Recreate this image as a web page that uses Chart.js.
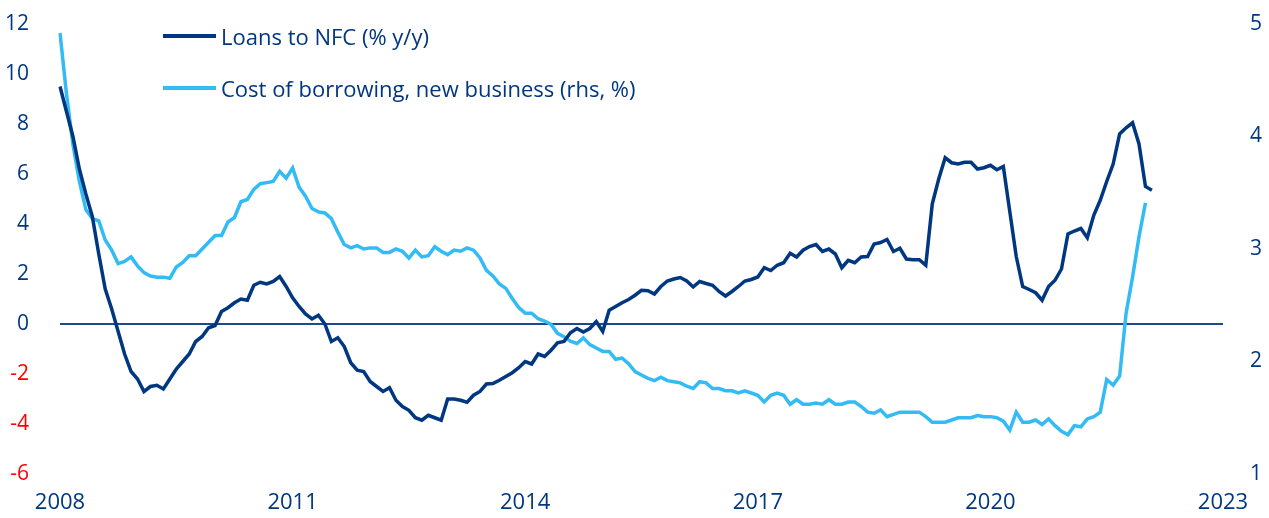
<!DOCTYPE html>
<html>
<head>
<meta charset="utf-8">
<script src="https://cdn.jsdelivr.net/npm/chart.js@4/dist/chart.umd.min.js"></script>
<style>
  body { margin: 0; background: #fff; }
  #wrap { position: relative; width: 1269px; height: 518px; }
  .legend { position: absolute; left: 163px; font-family: "Open Sans", sans-serif; font-size: 22px; color: #003781; display: flex; align-items: center; white-space: nowrap; }
  .legend span.sw { display: inline-block; width: 53px; height: 4px; margin-right: 5px; }
</style>
</head>
<body>
<div id="wrap">
  <canvas id="chart"></canvas>
  <div class="legend" style="top: 21px;"><span class="sw" style="background:#003781"></span>Loans to NFC (% y/y)</div>
  <div class="legend" style="top: 73px;"><span class="sw" style="background:#33bbf5"></span>Cost of borrowing, new business (rhs, %)</div>
</div>
<script>
// Mois de janv. 2008 à janv. 2023 (axe des abscisses)
const months = [];
for (let y = 2008; y <= 2023; y++) {
    for (let m = 1; m <= 12; m++) {
        if (y === 2023 && m > 1) break;
        months.push(y + '-' + String(m).padStart(2, '0'));
    }
}
const tickYears = ['2008', '2011', '2014', '2017', '2020', '2023'];

// Crédits aux SNF (% a/a), axe de gauche
const loansNFC = [
    9.5, 8.5, 7.5, 6.2, 5.2, 4.3, 2.8, 1.4, 0.6, -0.3, -1.2, -1.9,
    -2.2, -2.7, -2.5, -2.45, -2.6, -2.2, -1.8, -1.5, -1.2, -0.7, -0.5, -0.15,
    -0.06, 0.5, 0.65, 0.85, 1.0, 0.95, 1.55, 1.67, 1.6, 1.7, 1.9, 1.5,
    1.05, 0.7, 0.4, 0.2, 0.35, 0.0, -0.7, -0.55, -0.9, -1.55, -1.85, -1.9,
    -2.3, -2.5, -2.7, -2.55, -3.05, -3.3, -3.45, -3.75, -3.85, -3.65, -3.75, -3.85,
    -3.0, -3.0, -3.05, -3.13, -2.85, -2.7, -2.4, -2.38, -2.25, -2.1, -1.95, -1.75,
    -1.5, -1.6, -1.2, -1.3, -1.05, -0.75, -0.7, -0.35, -0.18, -0.32, -0.18, 0.1,
    -0.3, 0.55, 0.7, 0.85, 0.98, 1.15, 1.35, 1.33, 1.2, 1.5, 1.72, 1.8,
    1.86, 1.72, 1.48, 1.7, 1.62, 1.55, 1.3, 1.12, 1.3, 1.5, 1.72, 1.78,
    1.88, 2.25, 2.14, 2.35, 2.45, 2.83, 2.68, 2.95, 3.1, 3.18, 2.9, 3.0,
    2.8, 2.25, 2.55, 2.45, 2.68, 2.7, 3.2, 3.26, 3.38, 2.9, 3.03, 2.6,
    2.57, 2.57, 2.35, 4.8, 5.8, 6.65, 6.45, 6.4, 6.47, 6.47, 6.2, 6.25,
    6.35, 6.17, 6.3, 4.5, 2.7, 1.5, 1.38, 1.25, 0.95, 1.5, 1.75, 2.2,
    3.6, 3.72, 3.82, 3.45, 4.35, 4.95, 5.7, 6.4, 7.6, 7.85, 8.05, 7.2,
    5.5, 5.35
];

// Coût d'emprunt, nouvelles opérations (%), axe de droite
const costBorrowing = [
    4.92, 4.38, 3.93, 3.6, 3.35, 3.27, 3.25, 3.08, 2.99, 2.87, 2.89, 2.93,
    2.85, 2.79, 2.76, 2.75, 2.75, 2.74, 2.84, 2.88, 2.94, 2.94, 3.0, 3.06,
    3.12, 3.12, 3.24, 3.28, 3.42, 3.44, 3.53, 3.58, 3.59, 3.6, 3.69, 3.63,
    3.72, 3.55, 3.47, 3.36, 3.33, 3.32, 3.27, 3.15, 3.04, 3.01, 3.03, 3.0,
    3.01, 3.01, 2.97, 2.97, 3.0, 2.98, 2.92, 2.99, 2.93, 2.94, 3.02, 2.98,
    2.95, 2.99, 2.98, 3.01, 2.99, 2.92, 2.81, 2.76, 2.69, 2.65, 2.56, 2.48,
    2.43, 2.43, 2.38, 2.36, 2.33, 2.25, 2.22, 2.18, 2.16, 2.21, 2.15, 2.12,
    2.09, 2.09, 2.02, 2.03, 1.98, 1.91, 1.88, 1.85, 1.83, 1.86, 1.83, 1.82,
    1.81, 1.78, 1.76, 1.82, 1.81, 1.76, 1.76, 1.74, 1.74, 1.72, 1.74, 1.72,
    1.70, 1.64, 1.70, 1.72, 1.70, 1.62, 1.66, 1.62, 1.62, 1.63, 1.62, 1.66,
    1.62, 1.62, 1.64, 1.64, 1.60, 1.55, 1.54, 1.57, 1.51, 1.53, 1.55, 1.55,
    1.55, 1.55, 1.51, 1.46, 1.46, 1.46, 1.48, 1.50, 1.50, 1.50, 1.52, 1.51,
    1.51, 1.50, 1.47, 1.39, 1.55, 1.46, 1.46, 1.48, 1.44, 1.49, 1.43, 1.38,
    1.35, 1.43, 1.42, 1.49, 1.51, 1.55, 1.84, 1.79, 1.87, 2.43, 2.75, 3.11,
    3.41
];

const navy = '#003781';
const lightBlue = '#33bbf5';
const fontFamily = '"Open Sans", sans-serif';

new Chart(document.getElementById('chart'), {
    type: 'line',
    data: {
        labels: months,
        datasets: [{
            label: 'Loans to NFC (% y/y)',
            data: loansNFC,
            borderColor: navy,
            borderWidth: 3.5,
            pointRadius: 0,
            tension: 0,
            yAxisID: 'y'
        }, {
            label: 'Cost of borrowing, new business (rhs, %)',
            data: costBorrowing,
            borderColor: lightBlue,
            borderWidth: 3.5,
            pointRadius: 0,
            tension: 0,
            yAxisID: 'y1'
        }]
    },
    options: {
        responsive: true,
        maintainAspectRatio: false,
        animation: false,
        layout: { padding: { top: 24, bottom: 0, left: 0, right: 0 } },
        plugins: {
            legend: { display: false },
            tooltip: { enabled: false }
        },
        scales: {
            x: {
                type: 'category',
                offset: false,
                grid: { display: false, drawTicks: false },
                border: { display: false },
                ticks: {
                    autoSkip: false,
                    maxRotation: 0,
                    padding: 16,
                    color: navy,
                    font: { family: fontFamily, size: 22 },
                    callback: function (val, idx) {
                        const lab = months[idx];
                        const yr = lab.slice(0, 4);
                        return (lab.endsWith('-01') && tickYears.includes(yr)) ? yr : null;
                    }
                },
                afterFit: function (scale) { scale.height = 44; }
            },
            y: {
                position: 'left',
                min: -6,
                max: 12,
                grid: {
                    drawTicks: false,
                    lineWidth: 2,
                    color: function (ctx) { return ctx.tick && ctx.tick.value === 0 ? '#1f4a8a' : 'transparent'; }
                },
                border: { display: false },
                ticks: {
                    stepSize: 2,
                    padding: 31,
                    font: { family: fontFamily, size: 21 },
                    color: function (ctx) { return ctx.tick.value < 0 ? '#ff0000' : navy; }
                },
                afterFit: function (scale) {
                    scale.width = 60;
                    scale.paddingTop = 0;
                    scale.paddingBottom = 0;
                }
            },
            y1: {
                position: 'right',
                min: 1,
                max: 5,
                grid: { display: false, drawTicks: false },
                border: { display: false },
                ticks: {
                    stepSize: 1,
                    padding: 27,
                    font: { family: fontFamily, size: 21 },
                    color: navy
                },
                afterFit: function (scale) {
                    scale.width = 46;
                    scale.paddingTop = 0;
                    scale.paddingBottom = 0;
                }
            }
        }
    }
});
</script>
</body>
</html>
